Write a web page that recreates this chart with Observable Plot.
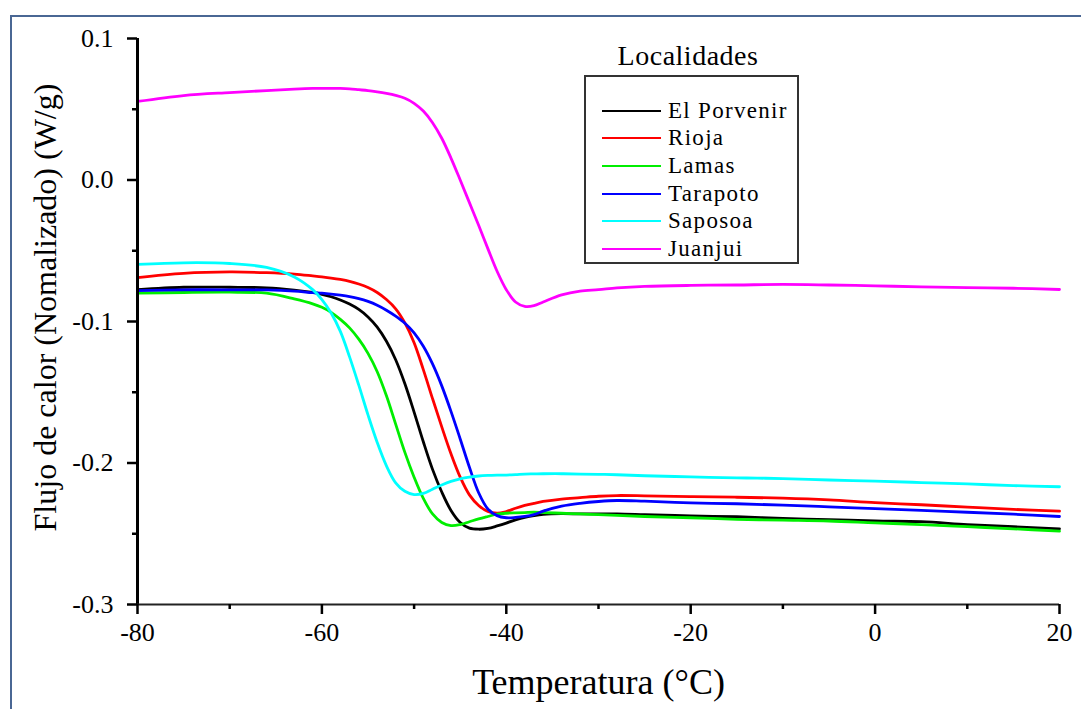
<!DOCTYPE html>
<html>
<head>
<meta charset="utf-8">
<script src="https://cdn.jsdelivr.net/npm/d3@7"></script>
<script src="https://cdn.jsdelivr.net/npm/@observablehq/plot@0.6"></script>
<style>
  html, body { margin: 0; padding: 0; background: #fff; }
  #wrap { position: relative; width: 1081px; height: 709px; overflow: hidden; font-family: "Liberation Serif", "DejaVu Serif", serif; }
  #border { position: absolute; left: 10px; top: 15px; right: -5px; bottom: -5px; border-top: 2px solid #4a6794; border-left: 2px solid #4a6794; }
  #chart { position: absolute; left: 0; top: 0; }
  .legtitle { position: absolute; left: 568px; width: 240px; top: 38px; text-align: center; font-size: 28px; letter-spacing: 0.5px; line-height: 36px; }
  #legbox { position: absolute; left: 584px; top: 75px; width: 211px; height: 185px; border: 2px solid #333; }
  .legrow { position: absolute; left: 602px; height: 26px; font-size: 23px; letter-spacing: 1.3px; line-height: 26px; }
  .legrow .ln { position: absolute; left: 0; top: 12px; width: 59px; height: 2px; }
  .legrow .lb { position: absolute; left: 66px; top: 0; white-space: nowrap; }
</style>
</head>
<body>
<div id="wrap">
  <div id="border"></div>
  <div id="chart"></div>
</div>
<script>
// Temperature grid (°C)
const temps = [-80,-75,-70,-66,-63,-61,-60,-59,-58,-57,-56,-55,-54,-53,-52,-51,-50,-49,-48,-47,-46,-45,-44,-43,-42,-41,-40,-39,-38,-37,-36,-34,-32,-30,-28,-25,-20,-15,-10,-5,0,5,10,15,20];

// Heat flow (W/g) per locality
const elPorvenir = [-0.0775,-0.0758,-0.0758,-0.0762,-0.0778,-0.0795,-0.0808,-0.0825,-0.0848,-0.0877,-0.0915,-0.0968,-0.1040,-0.1140,-0.1270,-0.1440,-0.1640,-0.1850,-0.2045,-0.2205,-0.2335,-0.2420,-0.2460,-0.2468,-0.2462,-0.2445,-0.2425,-0.2402,-0.2385,-0.2372,-0.2363,-0.2358,-0.2360,-0.2360,-0.2360,-0.2365,-0.2374,-0.2380,-0.2392,-0.2400,-0.2410,-0.2415,-0.2435,-0.2450,-0.2465];
const rioja = [-0.0690,-0.0660,-0.0650,-0.0655,-0.0665,-0.0678,-0.0685,-0.0693,-0.0703,-0.0716,-0.0735,-0.0760,-0.0795,-0.0845,-0.0910,-0.1010,-0.1150,-0.1340,-0.1545,-0.1745,-0.1935,-0.2100,-0.2225,-0.2300,-0.2342,-0.2355,-0.2343,-0.2320,-0.2300,-0.2285,-0.2272,-0.2255,-0.2245,-0.2235,-0.2230,-0.2232,-0.2238,-0.2242,-0.2248,-0.2260,-0.2280,-0.2295,-0.2312,-0.2328,-0.2340];
const lamas = [-0.0800,-0.0795,-0.0793,-0.0800,-0.0840,-0.0875,-0.0900,-0.0935,-0.0985,-0.1045,-0.1125,-0.1225,-0.1355,-0.1525,-0.1725,-0.1925,-0.2100,-0.2250,-0.2360,-0.2420,-0.2442,-0.2435,-0.2415,-0.2395,-0.2378,-0.2362,-0.2355,-0.2352,-0.2350,-0.2348,-0.2350,-0.2355,-0.2360,-0.2365,-0.2370,-0.2378,-0.2387,-0.2398,-0.2404,-0.2410,-0.2423,-0.2435,-0.2450,-0.2465,-0.2482];
const tarapoto = [-0.0782,-0.0776,-0.0776,-0.0777,-0.0785,-0.0796,-0.0800,-0.0806,-0.0814,-0.0824,-0.0838,-0.0858,-0.0885,-0.0920,-0.0962,-0.1012,-0.1080,-0.1175,-0.1300,-0.1455,-0.1635,-0.1830,-0.2030,-0.2210,-0.2325,-0.2372,-0.2387,-0.2385,-0.2378,-0.2365,-0.2340,-0.2305,-0.2285,-0.2272,-0.2265,-0.2270,-0.2282,-0.2288,-0.2298,-0.2310,-0.2322,-0.2335,-0.2348,-0.2362,-0.2378];
const saposoa = [-0.0597,-0.0585,-0.0590,-0.0618,-0.0685,-0.0775,-0.0845,-0.0940,-0.1070,-0.1250,-0.1450,-0.1660,-0.1855,-0.2020,-0.2140,-0.2200,-0.2223,-0.2215,-0.2185,-0.2155,-0.2130,-0.2112,-0.2100,-0.2092,-0.2088,-0.2086,-0.2085,-0.2082,-0.2078,-0.2077,-0.2076,-0.2076,-0.2078,-0.2080,-0.2083,-0.2090,-0.2098,-0.2105,-0.2110,-0.2120,-0.2128,-0.2138,-0.2148,-0.2160,-0.2168];
const juanjui = [0.0555,0.0597,0.0618,0.0632,0.0642,0.0647,0.0648,0.0648,0.0647,0.0644,0.0638,0.0632,0.0623,0.0612,0.0598,0.0578,0.0542,0.0487,0.0405,0.0295,0.0155,0.0000,-0.0160,-0.0320,-0.0485,-0.0645,-0.0775,-0.0862,-0.0893,-0.0888,-0.0862,-0.0812,-0.0785,-0.0775,-0.0763,-0.0752,-0.0745,-0.0742,-0.0738,-0.0742,-0.0748,-0.0755,-0.0760,-0.0765,-0.0774];

const names = ["El Porvenir","Rioja","Lamas","Tarapoto","Saposoa","Juanjui"];
const colors = ["#000000","#ff0000","#00ee00","#0000ff","#00ffff","#ff00ff"];
const seriesValues = [elPorvenir, rioja, lamas, tarapoto, saposoa, juanjui];

const xMajor = [-80,-60,-40,-20,0,20];
const xMinor = [-70,-50,-30,-10,10];
const yMajor = [-0.3,-0.2,-0.1,0,0.1];
const yMinor = [-0.25,-0.15,-0.05,0.05];

const xTitle = "Temperatura (°C)";
const yTitle = "Flujo de calor (Nomalizado) (W/g)";
const legendTitle = "Localidades";

const data = names.flatMap((n, k) => temps.map((t, i) => ({T: t, v: seriesValues[k][i], name: n})));

const fmtX = d => (d < 0 ? "-" : "") + Math.abs(d);
const fmtY = d => (d < 0 ? "-" : "") + Math.abs(d).toFixed(1);

const chart = Plot.plot({
  width: 1081,
  height: 709,
  marginLeft: 137,
  marginRight: 22,
  marginTop: 38,
  marginBottom: 105,
  style: {fontFamily: "'Liberation Serif', 'DejaVu Serif', serif", background: "transparent", color: "black"},
  x: {domain: [-80, 20]},
  y: {domain: [-0.3, 0.1]},
  color: {domain: names, range: colors},
  marks: [
    Plot.line(data, {x: "T", y: "v", z: "name", stroke: "name", strokeWidth: 2.8, curve: "catmull-rom"}),
    Plot.ruleX([-80], {stroke: "black", strokeWidth: 3}),
    Plot.ruleY([-0.3], {stroke: "#222", strokeWidth: 2}),
    Plot.axisX(xMajor, {tickSize: 10, tickPadding: 8, tickFormat: fmtX, fontSize: 26, strokeWidth: 2.5, label: null, color: "black"}),
    Plot.axisX(xMinor, {tickSize: 5, tickFormat: () => "", strokeWidth: 2.5, label: null, color: "black"}),
    Plot.axisY(yMajor, {tickSize: 10, tickPadding: 14, tickFormat: fmtY, fontSize: 26, strokeWidth: 2.5, label: null, color: "black"}),
    Plot.axisY(yMinor, {tickSize: 5, tickFormat: () => "", strokeWidth: 2.5, label: null, color: "black"}),
    Plot.text([xTitle], {frameAnchor: "bottom", dy: 78, fontSize: 36, fill: "black", lineAnchor: "middle", textAnchor: "middle"}),
    Plot.text([yTitle], {frameAnchor: "left", dx: -92, dy: -14, rotate: -90, fontSize: 32, fill: "black", lineAnchor: "middle", textAnchor: "middle"})
  ]
});
document.getElementById("chart").appendChild(chart);

// Legend overlay
const wrap = document.getElementById("wrap");
const t = document.createElement("div");
t.className = "legtitle";
t.textContent = legendTitle;
wrap.appendChild(t);
const box = document.createElement("div");
box.id = "legbox";
wrap.appendChild(box);
const rowsY = [98, 125, 153, 181, 208, 236];
names.forEach((n, k) => {
  const r = document.createElement("div");
  r.className = "legrow";
  r.style.top = rowsY[k] + "px";
  const ln = document.createElement("div");
  ln.className = "ln";
  ln.style.background = colors[k];
  const lb = document.createElement("div");
  lb.className = "lb";
  lb.textContent = n;
  r.appendChild(ln);
  r.appendChild(lb);
  wrap.appendChild(r);
});
</script>
</body>
</html>
